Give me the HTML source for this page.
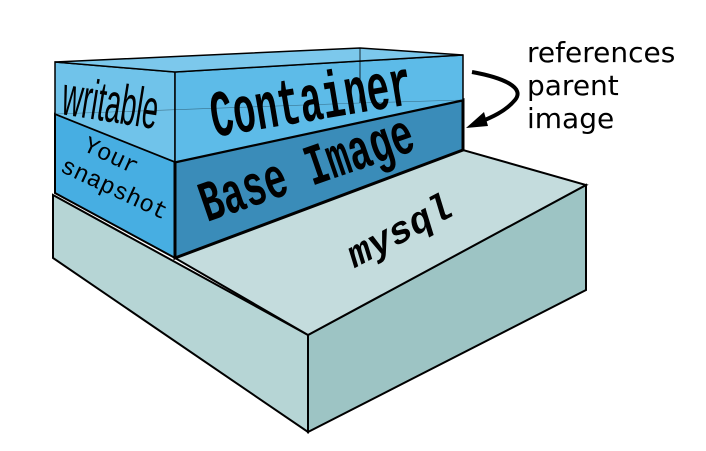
<!DOCTYPE html>
<html><head><meta charset="utf-8"><style>
html,body{margin:0;padding:0;background:#fff;}
svg{display:block;}
</style></head><body>
<svg width="706" height="451" viewBox="0 0 706 451" xmlns="http://www.w3.org/2000/svg">
<!-- mysql slab -->
<polygon points="53,195 308,335 308,432 53,258" fill="#b6d5d5" stroke="#000" stroke-width="2"/>
<polygon points="308,335 586,185 586,290 308,432" fill="#9dc4c4" stroke="#000" stroke-width="2"/>
<polygon points="175,258 463,150 586,185 308,335" fill="#c4dcdd" stroke="#000" stroke-width="2"/>
<!-- base image box -->
<polygon points="55,114 175,162 175,258 55,193" fill="#47aee2" stroke="#000" stroke-width="2"/>
<polygon points="175,162 463,100 463,150 175,258" fill="#3a8cb9" stroke="#000" stroke-width="3"/>
<line x1="175" y1="162" x2="175" y2="258" stroke="#000" stroke-width="3"/>
<!-- container box -->
<polygon points="55,62 175,72 175,162 55,114" fill="#70c3ea" stroke="#000" stroke-width="1.5"/>
<polygon points="175,72 463,55 463,100 175,162" fill="#5dbbe8" stroke="#000" stroke-width="1.5"/>
<polygon points="55,62 360,48 463,55 175,72" fill="#7cc8ec" stroke="#000" stroke-width="1.5"/>
<line x1="360" y1="48" x2="360" y2="103" stroke="#000" stroke-width="0.8"/>
<line x1="55" y1="114" x2="360" y2="103" stroke="#000" stroke-width="0.6" opacity="0.4"/>
<line x1="360" y1="103" x2="463" y2="100" stroke="#000" stroke-width="0.6" opacity="0.4"/>
<!-- texts -->
<text x="0" y="0" transform="translate(60,114) rotate(9) scale(0.5,1)" font-family="Liberation Sans Narrow,Liberation Sans,sans-serif" font-size="56" fill="#000">writable</text>
<text x="0" y="0" transform="translate(214,137) rotate(-9.5) scale(0.57,1)" font-family="Liberation Mono,monospace" font-weight="bold" font-size="66" fill="#000">Container</text>
<text x="0" y="0" transform="translate(207,222) rotate(-19) scale(0.64,1)" font-family="Liberation Mono,monospace" font-weight="bold" font-size="58" fill="#000">Base Image</text>
<text x="0" y="0" transform="translate(82,150) rotate(25)" font-family="Liberation Mono,monospace" font-size="24" fill="#000">Your</text>
<text x="0" y="0" transform="translate(59,171) rotate(25)" font-family="Liberation Mono,monospace" font-size="24" fill="#000">snapshot</text>
<text x="0" y="0" transform="translate(355,268) rotate(-28)" font-family="Liberation Mono,monospace" font-weight="bold" font-style="italic" font-size="38" fill="#000">mysql</text>
<!-- arrow -->
<path d="M472,72 C505,78 525,88 515,100 C505,112 490,118 478,123" fill="none" stroke="#000" stroke-width="4"/>
<polygon points="466,128 484,112 488,126" fill="#000"/>
<text font-family="DejaVu Sans,sans-serif" font-size="28" fill="#000"><tspan x="527" y="62">references</tspan><tspan x="527" y="95">parent</tspan><tspan x="527" y="128">image</tspan></text>
</svg>
</body></html>
